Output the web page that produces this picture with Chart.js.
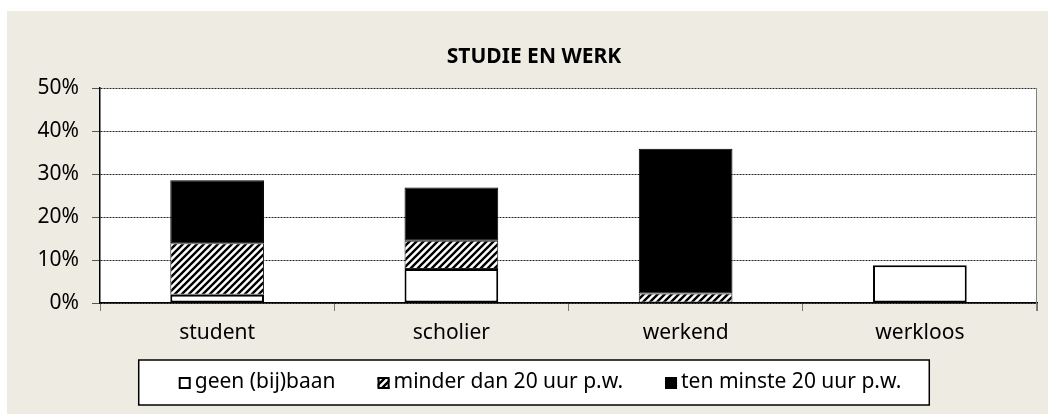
<!DOCTYPE html>
<html>
<head>
<meta charset="utf-8">
<script src="https://cdn.jsdelivr.net/npm/chart.js@4/dist/chart.umd.min.js"></script>
<style>
  html, body { margin: 0; padding: 0; background: #ffffff; }
  #wrap { position: relative; width: 1048px; height: 414px; }
</style>
</head>
<body>
<div id="wrap"><canvas id="c"></canvas></div>
<script>
// ---- data ----
const categories = ['student', 'scholier', 'werkend', 'werkloos'];
const seriesLabels = ['geen (bij)baan', 'minder dan 20 uur p.w.', 'ten minste 20 uur p.w.'];
const geenBaan = [1.9, 7.9, 0.0, 8.8];
const minderDan20 = [12.0, 6.6, 2.2, 0.0];
const tenMinste20 = [14.7, 12.4, 33.7, 0.0];
const yTickValues = [0, 10, 20, 30, 40, 50];
const yTickLabels = ['0%', '10%', '20%', '30%', '40%', '50%'];
const chartTitle = 'STUDIE EN WERK';

// ---- styles ----
const FONT = '"Noto Sans", "Open Sans", sans-serif';
const BEIGE = 'rgb(238,236,226)';

function makeHatch() {
  const p = 7;
  const c = document.createElement('canvas');
  c.width = p; c.height = p;
  const x = c.getContext('2d');
  x.fillStyle = '#ffffff';
  x.fillRect(0, 0, p, p);
  x.strokeStyle = '#000000';
  x.lineWidth = 2.4;
  x.beginPath();
  x.moveTo(-1, p + 1); x.lineTo(p + 1, -1);
  x.moveTo(-1, 1); x.lineTo(1, -1);
  x.moveTo(p - 1, p + 1); x.lineTo(p + 1, p - 1);
  x.stroke();
  return x.createPattern(c, 'repeat');
}
const hatch = makeHatch();

const backgroundPlugin = {
  id: 'bg',
  beforeDraw(chart) {
    const { ctx, chartArea: a } = chart;
    ctx.save();
    ctx.fillStyle = BEIGE;
    ctx.fillRect(7, 11, chart.width - 7, chart.height - 11);
    ctx.fillStyle = '#ffffff';
    ctx.fillRect(a.left, a.top, a.right - a.left, a.bottom - a.top);
    ctx.restore();
  },
  afterDatasetsDraw(chart) {
    const { ctx, chartArea: a } = chart;
    ctx.save();
    ctx.strokeStyle = '#808080';
    ctx.lineWidth = 1;
    ctx.beginPath();
    ctx.moveTo(a.right - 0.5, a.top);
    ctx.lineTo(a.right - 0.5, a.bottom + 8);
    ctx.stroke();
    ctx.restore();
  }
};

const legendPlugin = {
  id: 'boxLegend',
  afterDraw(chart) {
    const { ctx } = chart;
    const ds = chart.data.datasets;
    ctx.save();
    ctx.font = '21px ' + FONT;
    const box = 12, gapText = 4, gapItem = 42;
    const widths = ds.map(d => ctx.measureText(d.label).width);
    let total = 0;
    widths.forEach((w, i) => { total += box + gapText + w + (i ? gapItem : 0); });
    const itemsCenter = 540;
    let x = itemsCenter - total / 2;
    const cy = 382;
    const fl = x - 40, fr = x + total + 28;
    ctx.fillStyle = '#ffffff';
    ctx.fillRect(fl, 360, fr - fl, 45);
    ctx.strokeStyle = '#000000';
    ctx.lineWidth = 1.5;
    ctx.strokeRect(fl, 360, fr - fl, 45);
    ds.forEach((d, i) => {
      ctx.fillStyle = d.backgroundColor;
      ctx.fillRect(x, cy - box / 2 + 1, box, box);
      ctx.strokeStyle = '#000000';
      ctx.lineWidth = 2;
      ctx.strokeRect(x + 1, cy - box / 2 + 2, box - 2, box - 2);
      ctx.fillStyle = '#000000';
      ctx.textBaseline = 'middle';
      ctx.textAlign = 'left';
      ctx.fillText(d.label, x + box + gapText, cy);
      x += box + gapText + widths[i] + gapItem;
    });
    ctx.restore();
  }
};

new Chart(document.getElementById('c'), {
  type: 'bar',
  data: {
    labels: categories,
    datasets: [
      { label: seriesLabels[0], data: geenBaan, backgroundColor: '#ffffff', borderColor: '#000000', borderWidth: 2, borderSkipped: false },
      { label: seriesLabels[1], data: minderDan20, backgroundColor: hatch, borderColor: '#222222', borderWidth: 1, borderSkipped: false },
      { label: seriesLabels[2], data: tenMinste20, backgroundColor: '#000000', borderColor: '#000000', borderWidth: 1, borderSkipped: false }
    ]
  },
  options: {
    responsive: true,
    maintainAspectRatio: false,
    animation: false,
    layout: { padding: { top: 0, left: 31, right: 11, bottom: 68 } },
    datasets: { bar: { barPercentage: 0.4, categoryPercentage: 1.0 } },
    plugins: {
      legend: { display: false },
      tooltip: { enabled: false },
      title: {
        display: true,
        text: chartTitle,
        color: '#000000',
        font: { family: FONT, size: 21, weight: 'bold' },
        padding: { top: 44, bottom: 19 }
      }
    },
    scales: {
      x: {
        stacked: true,
        grid: { display: true, drawOnChartArea: false, drawTicks: true, tickLength: 8, color: '#777777', offset: true },
        border: { display: true, color: '#000000', width: 1.5 },
        ticks: { color: '#000000', font: { family: FONT, size: 21 }, padding: 9 },
        afterFit(scale) { scale.height = 43; }
      },
      y: {
        stacked: true,
        min: 0,
        max: 50,
        afterBuildTicks(scale) { scale.ticks = yTickValues.map(v => ({ value: v })); },
        ticks: {
          color: '#000000',
          font: { family: FONT, size: 21 },
          padding: 13,
          callback(value) { const i = yTickValues.indexOf(value); return i >= 0 ? yTickLabels[i] : ''; }
        },
        grid: { color: '#222222', lineWidth: 1, tickLength: 8, tickColor: '#555555', tickBorderDash: [] },
        border: { display: true, color: '#000000', width: 1.5, dash: [2, 1] },
        afterFit(scale) { scale.width = 69; }
      }
    }
  },
  plugins: [backgroundPlugin, legendPlugin]
});
</script>
</body>
</html>
